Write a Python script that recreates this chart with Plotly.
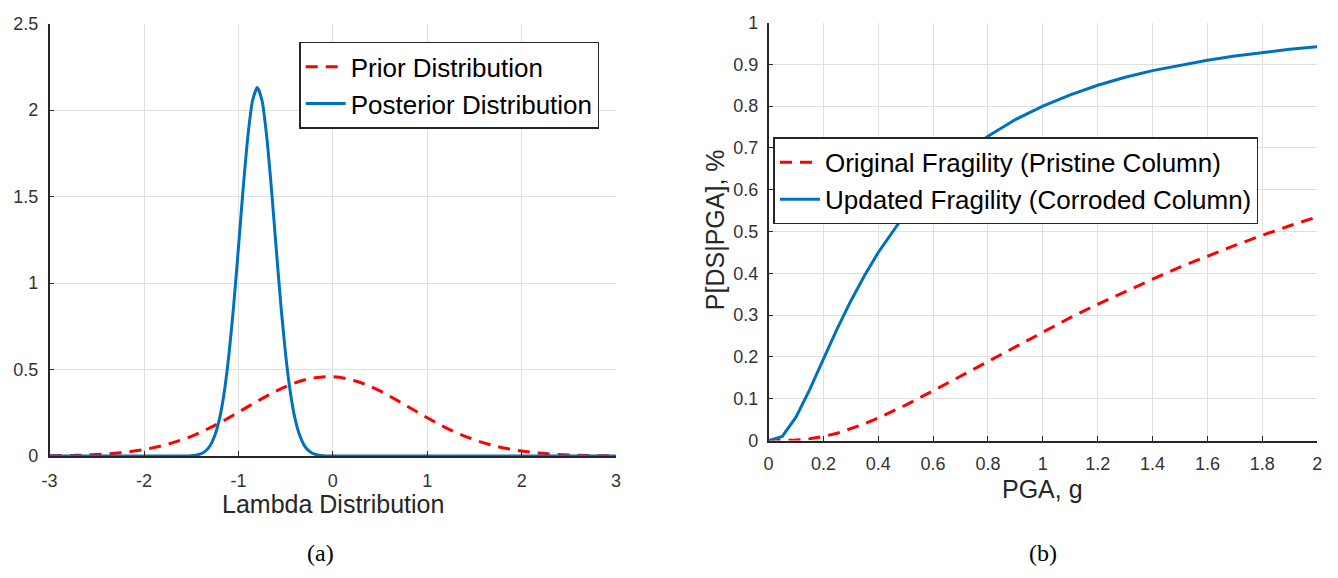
import plotly.graph_objects as go

# ---------------- data ----------------
# (a) prior / posterior densities of lambda
prior_x = [-3.0, -2.75, -2.5, -2.25, -2.0, -1.75, -1.5, -1.25, -1.0, -0.75, -0.5, -0.25,
           0.0, 0.25, 0.5, 0.75, 1.0, 1.25, 1.5, 1.75, 2.0, 2.25, 2.5, 2.75, 3.0]
prior_y = [0.0015, 0.0037, 0.0087, 0.019, 0.037, 0.068, 0.114, 0.177, 0.253, 0.332, 0.401, 0.447,
           0.458, 0.432, 0.376, 0.300, 0.221, 0.150, 0.094, 0.054, 0.029, 0.014, 0.0063, 0.0026, 0.001]

post_x = [-3.0, -1.6, -1.5, -1.45, -1.4, -1.35, -1.3, -1.25, -1.2, -1.15, -1.1, -1.05, -1.0,
          -0.95, -0.9, -0.85, -0.8, -0.75, -0.7, -0.65, -0.6, -0.55, -0.5, -0.45, -0.4,
          -0.35, -0.3, -0.25, -0.2, -0.15, -0.1, 0.0, 3.0]
post_y = [0.0, 0.0002, 0.0019, 0.005, 0.012, 0.028, 0.059, 0.118, 0.216, 0.369, 0.588, 0.871, 1.202,
          1.544, 1.846, 2.055, 2.13, 2.055, 1.846, 1.544, 1.202, 0.871, 0.588, 0.369, 0.216,
          0.118, 0.059, 0.028, 0.012, 0.005, 0.0019, 0.0002, 0.0]

# (b) fragility curves
pga = [0.0, 0.05, 0.1, 0.15, 0.2, 0.25, 0.3, 0.35, 0.4, 0.5, 0.6, 0.7, 0.8, 0.9, 1.0,
       1.1, 1.2, 1.3, 1.4, 1.5, 1.6, 1.7, 1.8, 1.9, 2.0]
original_frag = [0.0, 0.0001, 0.0011, 0.0041, 0.0096, 0.0176, 0.028, 0.040, 0.054, 0.085, 0.119,
                 0.154, 0.190, 0.225, 0.260, 0.294, 0.326, 0.357, 0.386, 0.415, 0.441, 0.467,
                 0.491, 0.514, 0.535]
updated_frag = [0.0, 0.010, 0.056, 0.122, 0.195, 0.267, 0.334, 0.395, 0.450, 0.544, 0.619,
                0.679, 0.728, 0.768, 0.800, 0.827, 0.850, 0.869, 0.885, 0.898, 0.910, 0.920,
                0.928, 0.936, 0.942]

x_ticks_a = [-3, -2, -1, 0, 1, 2, 3]
x_labels_a = ["-3", "-2", "-1", "0", "1", "2", "3"]
y_ticks_a = [0, 0.5, 1, 1.5, 2, 2.5]
y_labels_a = ["0", "0.5", "1", "1.5", "2", "2.5"]
x_ticks_b = [0, 0.2, 0.4, 0.6, 0.8, 1, 1.2, 1.4, 1.6, 1.8, 2]
x_labels_b = ["0", "0.2", "0.4", "0.6", "0.8", "1", "1.2", "1.4", "1.6", "1.8", "2"]
y_ticks_b = [0, 0.1, 0.2, 0.3, 0.4, 0.5, 0.6, 0.7, 0.8, 0.9, 1]
y_labels_b = ["0", "0.1", "0.2", "0.3", "0.4", "0.5", "0.6", "0.7", "0.8", "0.9", "1"]

# ---------------- styling ----------------
W, H = 1338, 578
BLUE = "#0072BD"
RED = "#FF0000"
FONT = "Liberation Sans, Arial, sans-serif"
AXC = "#262626"
GRID = "#e0e0e0"

fig = go.Figure()

fig.add_trace(go.Scatter(x=prior_x, y=prior_y, mode="lines", name="Prior Distribution",
                         line=dict(color=RED, width=3, dash="12px,8px", shape="spline"),
                         xaxis="x", yaxis="y", legend="legend"))
fig.add_trace(go.Scatter(x=post_x, y=post_y, mode="lines", name="Posterior Distribution",
                         line=dict(color=BLUE, width=3, shape="spline", smoothing=0.6),
                         xaxis="x", yaxis="y", legend="legend"))
fig.add_trace(go.Scatter(x=pga, y=original_frag, mode="lines",
                         name="Original Fragility (Pristine Column)",
                         line=dict(color=RED, width=3, dash="12px,8px"),
                         xaxis="x2", yaxis="y2", legend="legend2"))
fig.add_trace(go.Scatter(x=pga, y=updated_frag, mode="lines",
                         name="Updated Fragility (Corroded Column)",
                         line=dict(color=BLUE, width=3),
                         xaxis="x2", yaxis="y2", legend="legend2"))


def px_x(v):
    return v / W


def px_y(v):
    return 1 - v / H


axis_common = dict(showgrid=True, gridcolor=GRID, gridwidth=1, zeroline=False,
                   showline=True, linecolor=AXC, linewidth=1.5, mirror=False,
                   ticks="inside", ticklen=5, tickcolor=AXC, tickwidth=1,
                   tickfont=dict(family=FONT, size=18, color="#333333"))

fig.update_layout(
    width=W, height=H,
    margin=dict(l=0, r=0, t=0, b=0),
    paper_bgcolor="white", plot_bgcolor="white",
    xaxis=dict(domain=[px_x(42), px_x(614)], range=[-3, 3], tickvals=x_ticks_a,
               ticktext=x_labels_a, ticklabelstandoff=8, anchor="y", **axis_common),
    yaxis=dict(domain=[px_y(462), px_y(14)], range=[0, 2.5], tickvals=y_ticks_a,
               ticktext=y_labels_a, ticklabelstandoff=6, anchor="x", **axis_common),
    xaxis2=dict(domain=[px_x(768), px_x(1322)], range=[0, 2], tickvals=x_ticks_b,
                ticktext=x_labels_b, ticklabelstandoff=6, anchor="y2", **axis_common),
    yaxis2=dict(domain=[px_y(446), px_y(13)], range=[0, 1], tickvals=y_ticks_b,
                ticktext=y_labels_b, ticklabelstandoff=5, anchor="x2", **axis_common),
    legend=dict(x=px_x(597), y=px_y(33), xanchor="right", yanchor="top",
                bgcolor="white", bordercolor="#262626", borderwidth=1.5,
                font=dict(family=FONT, size=26, color="black"),
                tracegroupgap=0, itemwidth=40),
    legend2=dict(x=px_x(773), y=px_y(132), xanchor="left", yanchor="top",
                 bgcolor="white", bordercolor="#262626", borderwidth=1.5,
                 font=dict(family=FONT, size=26, color="black"),
                 tracegroupgap=0, itemwidth=40),
    showlegend=True,
)

ann = [
    dict(text="Lambda Distribution", x=px_x(328), y=px_y(512), size=25, family=FONT, angle=0,
         color=AXC),
    dict(text="PGA, g", x=px_x(1045), y=px_y(496), size=25, family=FONT, angle=0, color=AXC),
    dict(text="P[DS|PGA], %", x=px_x(714), y=px_y(228), size=25, family=FONT, angle=-90,
         color=AXC),
    dict(text="(a)", x=px_x(316), y=px_y(562), size=24,
         family="Liberation Serif, Times New Roman, serif", angle=0, color="black"),
    dict(text="(b)", x=px_x(1045), y=px_y(562), size=24,
         family="Liberation Serif, Times New Roman, serif", angle=0, color="black"),
]
for a in ann:
    fig.add_annotation(text=a["text"], x=a["x"], y=a["y"], xref="paper", yref="paper",
                       xanchor="center", yanchor="middle", showarrow=False,
                       textangle=a["angle"],
                       font=dict(family=a["family"], size=a["size"], color=a["color"]))

fig.write_html("out.html")
